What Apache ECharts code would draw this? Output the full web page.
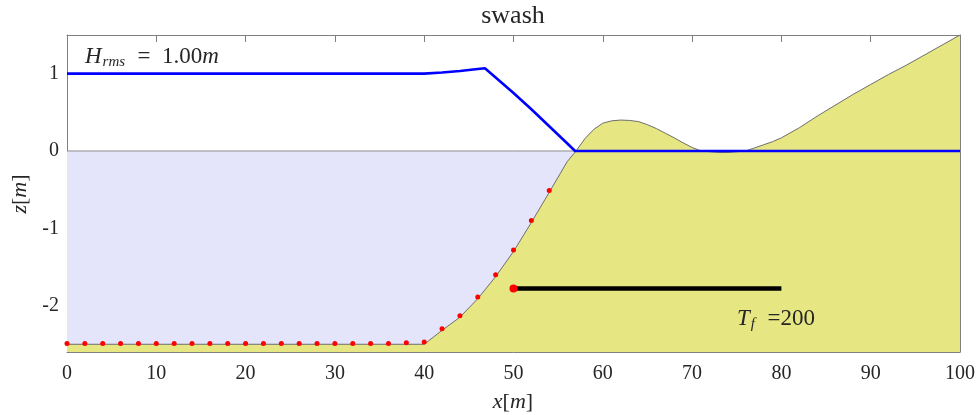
<!DOCTYPE html>
<html><head><meta charset="utf-8">
<script src="https://cdn.jsdelivr.net/npm/echarts@6/dist/echarts.min.js"></script>
<style>html,body{margin:0;padding:0;background:#fff}#c{width:979px;height:415px}</style>
</head><body><div id="c"></div>
<script>
// ---- data ----
const bedX = [0, 40, 42, 44, 46, 48, 50, 52, 54, 56, 57, 58, 59, 60, 61, 62, 63, 64, 65, 66, 67, 68, 69, 70, 71, 72, 73, 74, 75, 76, 77, 78, 79, 80, 82, 84, 86, 88, 90, 92, 94, 96, 98, 100];
const bedZ = [-2.5, -2.5, -2.32, -2.15, -1.91, -1.625, -1.30, -0.925, -0.535, -0.14, 0.0, 0.16, 0.28, 0.36, 0.39, 0.40, 0.395, 0.38, 0.34, 0.29, 0.23, 0.17, 0.105, 0.045, 0.0, -0.01, -0.02, -0.02, -0.01, 0.0, 0.04, 0.08, 0.12, 0.17, 0.30, 0.45, 0.59, 0.73, 0.86, 0.99, 1.11, 1.24, 1.37, 1.5];
const waveX = [0, 40, 42, 44, 46, 46.8, 48, 50, 52, 54, 55, 56, 56.9, 100];
const waveZ = [1.0, 1.0, 1.015, 1.035, 1.06, 1.07, 0.95, 0.75, 0.54, 0.32, 0.21, 0.10, 0.0, 0.0];
const gaugeX = [0, 2, 4, 6, 8, 10, 12, 14, 16, 18, 20, 22, 24, 26, 28, 30, 32, 34, 36, 38, 40, 42, 44, 46, 48, 50, 52, 54];
const gaugeZ = [-2.49, -2.49, -2.49, -2.49, -2.49, -2.49, -2.49, -2.49, -2.49, -2.49, -2.49, -2.49, -2.49, -2.49, -2.49, -2.49, -2.49, -2.49, -2.49, -2.48, -2.47, -2.30, -2.13, -1.89, -1.60, -1.28, -0.90, -0.51];
const barX = [50, 80];
const barZ = [-1.78, -1.78];
const waterX = [0, 100];
const waterZ = [0, 0];
const xTicks = [0, 10, 20, 30, 40, 50, 60, 70, 80, 90, 100];
const zTicks = [-2, -1, 0, 1];
const xRange = [0, 100];
const zRange = [-2.6, 1.5];
const titleText = 'swash';
const hrmsValue = '1.00';
const tfValue = '200';

// ---- build ----
const pairs = (xs, ys) => xs.map((x, i) => [x, ys[i]]);
const FF = '"Liberation Serif", "DejaVu Serif", serif';
const AX = '#808080';
const TXT = '#262626';

const chart = echarts.init(document.getElementById('c'), null, {renderer: 'canvas'});

function xAxisCfg(pos, showLabel) {
  return {
    type: 'value', position: pos, min: xRange[0], max: xRange[1], interval: 10,
    axisLine: {show: true, onZero: false, lineStyle: {color: AX, width: 1}},
    axisTick: {show: true, inside: true, length: 7, customValues: xTicks, lineStyle: {color: AX}},
    axisLabel: {show: showLabel, customValues: xTicks, fontFamily: FF, fontSize: 20, color: TXT, margin: 12},
    splitLine: {show: false}
  };
}
function yAxisCfg(pos, showLabel) {
  return {
    type: 'value', position: pos, min: zRange[0], max: zRange[1],
    axisLine: {show: true, onZero: false, lineStyle: {color: AX, width: 1}},
    axisTick: {show: true, inside: true, length: 7, customValues: zTicks, lineStyle: {color: AX}},
    axisLabel: {show: showLabel, customValues: zTicks, fontFamily: FF, fontSize: 20, color: TXT, margin: 8},
    splitLine: {show: false}
  };
}
const subRich = (big, small) => ({
  i: {fontFamily: FF, fontStyle: 'italic', fontSize: big, fill: TXT, lineHeight: 28},
  n: {fontFamily: FF, fontSize: big, fill: TXT, lineHeight: 28},
  s: {fontFamily: FF, fontStyle: 'italic', fontSize: small, fill: TXT, lineHeight: 28, padding: [10, 1, 0, 1]}
});

const option = {
  animation: false,
  backgroundColor: '#ffffff',
  grid: {left: 67, right: 19, top: 35, bottom: 63, containLabel: false},
  xAxis: [xAxisCfg('bottom', true), xAxisCfg('top', false)],
  yAxis: [yAxisCfg('left', true), yAxisCfg('right', false)],
  series: [
    { // water body
      type: 'line', data: pairs(waterX, waterZ), symbol: 'none', z: 1,
      lineStyle: {color: '#8c8c8c', width: 1},
      areaStyle: {color: '#e4e4fb', origin: 'start', opacity: 1}
    },
    { // sediment / bed
      type: 'line', data: pairs(bedX, bedZ), symbol: 'none', smooth: false, z: 2,
      lineStyle: {color: '#6e6e6e', width: 1},
      areaStyle: {color: '#e6e682', origin: 'start', opacity: 1}
    },
    { // Hrms profile
      type: 'line', data: pairs(waveX, waveZ), symbol: 'none', z: 3,
      lineStyle: {color: '#0000ff', width: 2.6}
    },
    { // gauges (markers only)
      type: 'line', data: pairs(gaugeX, gaugeZ), z: 4,
      showSymbol: true, showAllSymbol: true, symbol: 'circle', symbolSize: 5,
      lineStyle: {opacity: 0, width: 0},
      itemStyle: {color: '#ff0000', borderWidth: 0}
    },
    { // time bar with start marker
      type: 'line', data: pairs(barX, barZ), z: 5,
      showSymbol: true, showAllSymbol: true, symbol: 'circle',
      symbolSize: (v, p) => (p.dataIndex === 0 ? 8 : 0),
      lineStyle: {color: '#000000', width: 4.5},
      itemStyle: {color: '#ff0000', borderWidth: 0}
    }
  ],
  graphic: [
    {type: 'text', z: 100, x: 513, y: 16, style: {text: titleText, font: '26px ' + FF, fill: TXT, align: 'center', verticalAlign: 'middle'}},
    {type: 'text', z: 100, x: 85, y: 57, style: {
      text: '{i|H}{s|rms}{n|\u2002=\u2002' + hrmsValue + '}{i|m}', verticalAlign: 'middle', fill: TXT,
      rich: subRich(23, 15)}},
    {type: 'text', z: 100, x: 737, y: 319, style: {
      text: '{i|T}{s|f}{n|\u2002=' + tfValue + '}', verticalAlign: 'middle', fill: TXT,
      rich: subRich(23, 15)}},
    {type: 'text', z: 100, x: 513, y: 402, style: {
      text: '{i|x}{n|[}{i|m}{n|]}', align: 'center', verticalAlign: 'middle', fill: TXT,
      rich: {
        i: {fontFamily: FF, fontStyle: 'italic', fontSize: 22, fill: TXT},
        n: {fontFamily: FF, fontSize: 22, fill: TXT}
      }}},
    {type: 'text', z: 100, x: 20, y: 194, rotation: Math.PI / 2, style: {
      text: '{i|z}{n|[}{i|m}{n|]}', align: 'center', verticalAlign: 'middle', fill: TXT,
      rich: {
        i: {fontFamily: FF, fontStyle: 'italic', fontSize: 22, fill: TXT},
        n: {fontFamily: FF, fontSize: 22, fill: TXT}
      }}}
  ]
};
chart.setOption(option);
</script>
</body></html>
